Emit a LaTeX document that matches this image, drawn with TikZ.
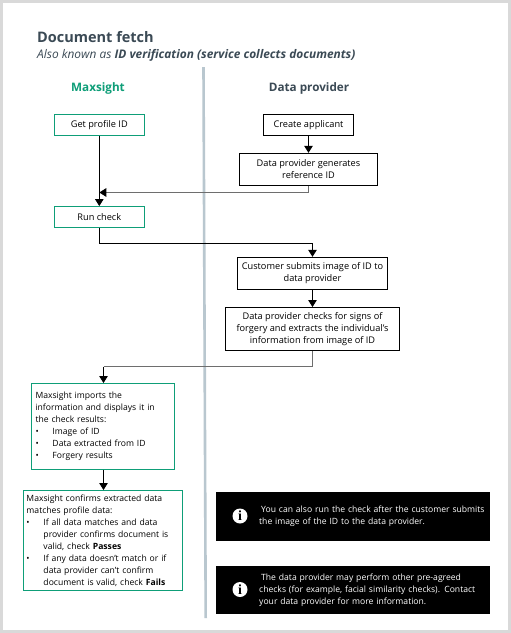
\documentclass[tikz,border=0pt]{standalone}
\usepackage{fontspec}
\setmainfont{Open Sans}
\newfontfamily\iconfont{Liberation Serif}
\usetikzlibrary{arrows.meta,calc}
\definecolor{mgreen}{HTML}{0E9E78}
\definecolor{slate}{HTML}{3B4A55}
\definecolor{divcol}{HTML}{B9C7CF}
\definecolor{frame}{HTML}{D9D9D9}
\definecolor{graywire}{HTML}{6E6E6E}
\newcommand{\bodyfont}{\fontsize{8.6}{12}\selectfont}
\newcommand{\widefont}{\fontsize{9.2}{12}\selectfont}
\newcommand{\bl}[1]{\makebox[17pt][l]{\textbullet}#1}
\tikzset{
  x=1pt,y=-1pt,
  flowbox/.style={draw,line width=0.9pt,inner sep=0pt,align=center,font=\widefont,text=black},
  greenbox/.style={flowbox,draw=mgreen},
  blackbox/.style={flowbox,draw=black},
  listbox/.style={greenbox,align=left,font=\bodyfont},
  notebox/.style={fill=black,text=white,inner sep=0pt,font=\bodyfont,align=left,minimum width=274pt,anchor=north west},
  infoicon/.style={circle,fill=white,text=black,inner sep=0pt,minimum size=15pt,font=\fontsize{14}{14}\iconfont\bfseries\selectfont},
  wire/.style={line width=0.9pt,-{Triangle[length=7pt,width=8.5pt,fill=black,color=black]}},
  graywireline/.style={wire,draw=graywire,line width=1.3pt},
  lane/.style={font=\fontsize{11.7}{14}\bfseries\selectfont,anchor=center}
}
\begin{document}
\begin{tikzpicture}
\useasboundingbox (0,0) rectangle (511,633);
\fill[white] (0,0) rectangle (511,633);
\draw[frame,line width=3pt] (1.5,1.5) rectangle (509.5,631.5);
\node[inner sep=0pt,anchor=west,text=slate,font=\fontsize{14.5}{16}\bfseries\selectfont] (title) at (37,37.5) {Document fetch};
\node[inner sep=0pt,anchor=west,text=slate,font=\fontsize{11.9}{14}\itshape\selectfont] (subtitle) at (37,55.5) {Also known as \textbf{ID verification (service collects documents)}};
\draw[divcol,line width=2.6pt] (203.5,67) -- (205.7,618);
\node[lane,text=mgreen] (lmax) at (98,88.5) {Maxsight};
\node[lane,text=slate] (ldata) at (309,88.5) {Data provider};

\node[greenbox,minimum width=90pt,minimum height=21pt] (profile) at (99.3,125) {Get profile ID};
\node[blackbox,minimum width=90pt,minimum height=21pt] (create) at (308.5,125) {Create applicant};
\node[blackbox,minimum width=138pt,minimum height=32pt] (gen) at (308.5,169.3) {Data provider generates\\reference ID};
\node[greenbox,minimum width=90pt,minimum height=21pt] (run) at (99.3,217) {Run check};
\node[blackbox,minimum width=150pt,minimum height=32pt] (cust) at (312.5,273.3) {Customer submits image of ID to\\data provider};
\node[blackbox,minimum width=174pt,minimum height=43pt] (forg) at (312.5,329) {Data provider checks for signs of\\forgery and extracts the individual's\\information from image of ID};
\node[listbox,minimum width=143pt,minimum height=86pt,text width=135pt] (imp) at (103,426.5) {Maxsight imports the\\information and displays it in\\the check results:\\\bl{Image of ID}\\\bl{Data extracted from ID}\\\bl{Forgery results}};
\node[listbox,minimum width=159pt,minimum height=100pt,text width=153pt] (conf) at (103,540.5) {Maxsight confirms extracted data\\matches profile data:\\\bl{If all data matches and data}\\\hspace*{17pt}provider confirms document is\\\hspace*{17pt}valid, check \textbf{Passes}\\\bl{If any data doesn't match or if}\\\hspace*{17pt}data provider can't confirm\\\hspace*{17pt}document is valid, check \textbf{Fails}};

\node[notebox,minimum height=49pt,text width=274pt] (note1) at (216,492) {\hspace*{45pt}You can also run the check after the customer submits\\\hspace*{43pt}the image of the ID to the data provider.};
\node[notebox,minimum height=48pt,text width=274pt] (note2) at (216,566) {\hspace*{45pt}The data provider may perform other pre-agreed\\\hspace*{43pt}checks (for example, facial similarity checks). Contact\\\hspace*{43pt}your data provider for more information.};
\node[infoicon] (i1) at (240,516) {i};
\node[infoicon] (i2) at (240,589.5) {i};

\coordinate (merge) at (99.3,192.5);
\draw[wire] (profile) -- (run);
\draw[wire] (create) -- (gen);
\draw[graywireline] (gen.south) |- (merge);
\draw[wire] (run.south) -- ++(0,15.5) -| (cust.north);
\draw[wire] (cust) -- (forg);
\coordinate (elbow) at (forg.south |- 0,366.5);
\draw[graywire,line width=1.3pt] (forg.south) -- (elbow) -- (103.5,366.5);
\draw[wire] (103.5,366.5) -- (imp.north -| 103.5,0);
\draw[wire] (imp.south -| 103.5,0) -- (conf.north -| 103.5,0);
\end{tikzpicture}
\end{document}
